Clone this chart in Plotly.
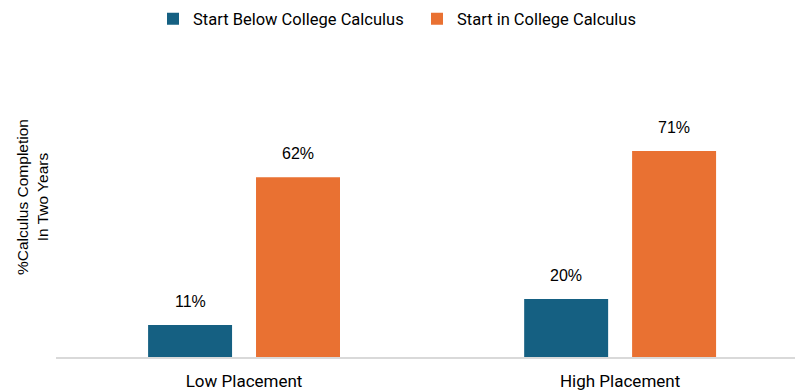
import plotly.graph_objects as go

categories = ["Low Placement", "High Placement"]
series_names = ["Start Below College Calculus", "Start in College Calculus"]
below_values = [11, 20]
in_values = [62, 71]
series_values = [below_values, in_values]
colors = ["#156082", "#E97132"]

FONT = "Roboto"
LABEL_FONT = "Liberation Sans, Arial"
BARGAP = 0.426
GROUPGAP = 0.222

W, H = 795, 391
ML, MR, MT, MB = 56, 0, 125, 34
plot_w = W - ML - MR
plot_h = H - MT - MB

fig = go.Figure()
for name, vals, col in zip(series_names, series_values, colors):
    fig.add_trace(go.Bar(x=categories, y=vals, name=name, marker=dict(color=col, line=dict(width=0))))

# data labels placed through the axes
slot = (1 - BARGAP) / len(series_values)
for i, vals in enumerate(series_values):
    for j, v in enumerate(vals):
        fig.add_annotation(
            x=j + (i - (len(series_values) - 1) / 2) * slot,
            y=v, xref="x", yref="y", text=f"{v}%", showarrow=False,
            yanchor="bottom", yshift=13,
            font=dict(family=LABEL_FONT, size=16, color="#000000"),
        )

# y-axis title
fig.add_annotation(
    x=(32 - ML) / plot_w, y=(H - MB - 197) / plot_h, xref="paper", yref="paper",
    xanchor="center", yanchor="middle",
    text="%Calculus Completion<br>In Two Years",
    showarrow=False, textangle=-90, font=dict(family=LABEL_FONT, size=15.5, color="#000000"),
)

fig.update_layout(
    width=W, height=H,
    margin=dict(l=ML, r=MR, t=MT, b=MB, autoexpand=False),
    paper_bgcolor="white", plot_bgcolor="white",
    barmode="group", bargap=BARGAP, bargroupgap=GROUPGAP,
    showlegend=True,
    legend=dict(orientation="h", x=(153 - ML) / plot_w, xanchor="left", y=(H - MB - 19) / plot_h, yanchor="middle",
                font=dict(family=FONT, size=16.5, color="#000000"), entrywidth=219, entrywidthmode="pixels",
                itemclick=False, itemdoubleclick=False),
    xaxis=dict(range=[-0.5, 1.465], showline=True, linecolor="#D9D9D9", linewidth=1.5,
               ticks="", showgrid=False, tickfont=dict(family=FONT, size=17, color="#000000"),
               ticklabelstandoff=8),
    yaxis=dict(range=[0, 80], visible=False, showgrid=False, zeroline=False),
    font=dict(family=FONT),
)

fig.write_html("out.html")
